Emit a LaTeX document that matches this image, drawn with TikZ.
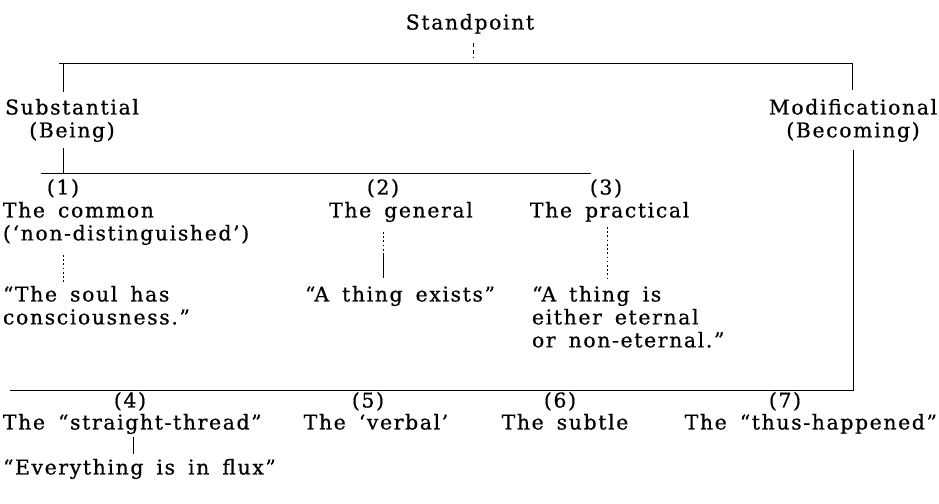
\documentclass[tikz,border=0pt]{standalone}
\usepackage{fontspec}
\newfontfamily\diagfont{DejaVu Serif}[LetterSpace=8, WordSpace=1.6, FakeBold=0.6]
\tikzset{
  lbl/.style={inner sep=0pt, outer sep=0pt, font=\diagfont\fontsize{14.5}{16.3}\selectfont},
  rule/.style={line width=0.6pt, black},
  dotrule/.style={line width=0.6pt, black, dash pattern=on 1.2pt off 1.8pt},
  dashrule/.style={line width=0.5pt, black, dash pattern=on 3pt off 2pt},
}
\begin{document}
\begin{tikzpicture}[x=0.025cm,y=-0.025cm]
\useasboundingbox (0,0) rectangle (939,504);
\fill[white] (0,0) rectangle (939,504);

% top level
\node[lbl, anchor=north] (stand) at (470,14) {Standpoint};
\coordinate (tickA) at (473,43);
\coordinate (tickB) at (473,58);
\draw[dashrule] (tickA) -- (tickB);

\coordinate (topL) at (59,63);
\coordinate (topR) at (852,63);
\draw[rule] (topL) -- (topR);

\node[lbl, anchor=north, align=center] (subst) at (72,99) {Substantial\\(Being)};
\node[lbl, anchor=north, align=center] (modif) at (853,99) {Modificational\\(Becoming)};

\coordinate (sv1) at (63,63);
\coordinate (sv2) at (63,92);
\draw[rule] (sv1) -- (sv2);
\coordinate (mv1) at (852,63);
\coordinate (mv2) at (852,90);
\draw[rule] (mv1) -- (mv2);

% second level
\coordinate (bv1) at (63,148);
\coordinate (bv2) at (63,173);
\draw[rule] (bv1) -- (bv2);
\coordinate (midL) at (41,173);
\coordinate (midR) at (591,173);
\draw[rule] (midL) -- (midR);

\coordinate (rv1) at (853,150);
\coordinate (rv2) at (853,390);
\draw[rule] (rv1) -- (rv2);
\coordinate (botL) at (10,390);
\coordinate (botR) at (854,390);
\draw[rule] (botL) -- (botR);

% (1)
\node[lbl, anchor=north] (n1) at (63,179) {(1)};
\node[lbl, anchor=north west, align=left] (c1) at (3,202) {The common\\(‘non-distinguished’)};
\coordinate (d1a) at (63,255);
\coordinate (d1b) at (63,283);
\draw[dotrule] (d1a) -- (d1b);
\node[lbl, anchor=north west, align=left] (q1) at (3,286) {“The soul has\\consciousness.”};

% (2)
\node[lbl, anchor=north] (n2) at (383,179) {(2)};
\node[lbl, anchor=north] (c2) at (401,202) {The general};
\coordinate (d2a) at (383,232);
\coordinate (d2b) at (383,255);
\coordinate (d2c) at (383,278);
\draw[dotrule] (d2a) -- (d2b);
\draw[rule] (d2b) -- (d2c);
\node[lbl, anchor=north] (q2) at (400,286) {“A thing exists”};

% (3)
\node[lbl, anchor=north] (n3) at (606,179) {(3)};
\node[lbl, anchor=north west] (c3) at (530,202) {The practical};
\coordinate (d3a) at (607,227);
\coordinate (d3b) at (607,281);
\draw[dotrule] (d3a) -- (d3b);
\node[lbl, anchor=north west, align=left] (q3) at (532,286) {“A thing is\\either eternal\\or non-eternal.”};

% bottom row
\node[lbl, anchor=north] (n4) at (130,392) {(4)};
\node[lbl, anchor=north west] (c4) at (3,414) {The “straight-thread”};
\coordinate (d4a) at (133,437);
\coordinate (d4b) at (133,454);
\draw[rule] (d4a) -- (d4b);
\node[lbl, anchor=north west] (q4) at (3,459) {“Everything is in flux”};

\node[lbl, anchor=north] (n5) at (368,392) {(5)};
\node[lbl, anchor=north] (c5) at (376,414) {The ‘verbal’};

\node[lbl, anchor=north] (n6) at (560,392) {(6)};
\node[lbl, anchor=north] (c6) at (565,414) {The subtle};

\node[lbl, anchor=north] (n7) at (785,392) {(7)};
\node[lbl, anchor=north east] (c7) at (937,414) {The “thus-happened”};
\end{tikzpicture}
\end{document}
